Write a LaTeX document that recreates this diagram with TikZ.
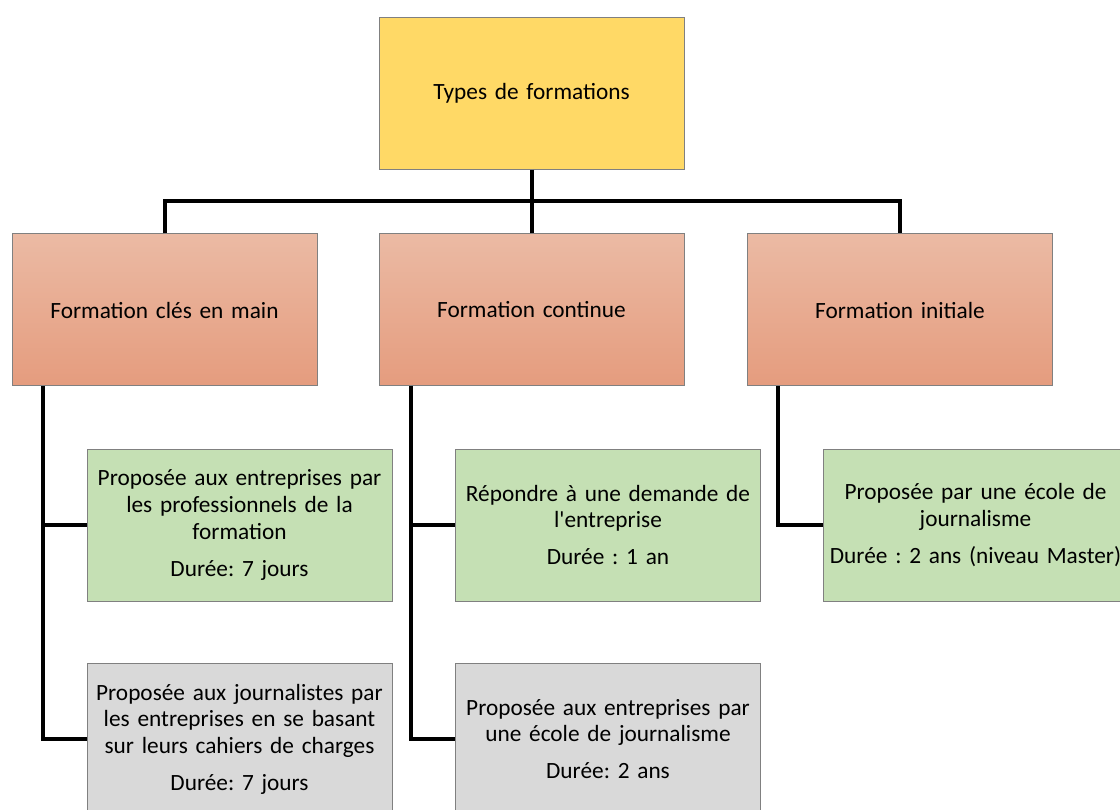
\documentclass[tikz,border=0pt]{standalone}
\usepackage{fontspec}
\setmainfont{Carlito}
\frenchspacing
\definecolor{boxborder}{RGB}{128,128,128}
\definecolor{yellowfill}{RGB}{255,217,102}
\definecolor{orangetop}{RGB}{235,186,164}
\definecolor{orangebot}{RGB}{229,156,126}
\definecolor{greenfill}{RGB}{197,224,180}
\definecolor{grayfill}{RGB}{217,217,217}
\begin{document}
\begin{tikzpicture}[x=1pt,y=-1pt,
  box/.style={draw=boxborder, line width=1pt, minimum width=305pt, minimum height=152pt,
    inner sep=0pt, text width=303pt, align=center, font=\fontsize{23.3}{26.7}\selectfont},
  topbox/.style={box, fill=yellowfill},
  catbox/.style={box, top color=orangetop, bottom color=orangebot},
  greenbox/.style={box, fill=greenfill},
  graybox/.style={box, fill=grayfill},
  link/.style={draw=black, line width=4pt, line join=miter}]
\useasboundingbox (0,0) rectangle (1120,810);
\clip (0,0) rectangle (1120,810);
\coordinate (bar) at (0,201);
\coordinate (d1) at (43,386);
\coordinate (d2) at (411,386);
\coordinate (d3) at (778,386);
\node[topbox] (top) at (531.5,93.5) {Types de formations};
\node[catbox] (o1) at (164.5,310) {Formation clés en main};
\node[catbox] (o2) at (531.5,310) {Formation continue};
\node[catbox] (o3) at (900,310) {Formation initiale};
\node[greenbox] (g1) at (239.5,525) {Proposée aux entreprises par\\les professionnels de la\\formation\\[10pt]Durée: 7 jours};
\node[greenbox] (g2) at (608,525) {Répondre à une demande de\\l\textquotesingle entreprise\\[10pt]Durée : 1 an};
\node[greenbox] (g3) at (975.5,525) {Proposée par une école de\\journalisme\\[10pt]Durée : 2 ans (niveau Master)};
\node[graybox] (s1) at (239.5,739) {Proposée aux journalistes par\\les entreprises en se basant\\sur leurs cahiers de charges\\[10pt]Durée: 7 jours};
\node[graybox] (s2) at (608,739) {Proposée aux entreprises par\\une école de journalisme\\[10pt]Durée: 2 ans};
\draw[link] (top.south) -- (top.south |- bar);
\draw[link] (o1.north) -- (o1.north |- bar) -- (o3.north |- bar) -- (o3.north);
\draw[link] (o2.north) -- (o2.north |- bar);
\draw[link] (d1) |- (g1.west);
\draw[link] (d1) |- (s1.west);
\draw[link] (d2) |- (g2.west);
\draw[link] (d2) |- (s2.west);
\draw[link] (d3) |- (g3.west);
\end{tikzpicture}
\end{document}
